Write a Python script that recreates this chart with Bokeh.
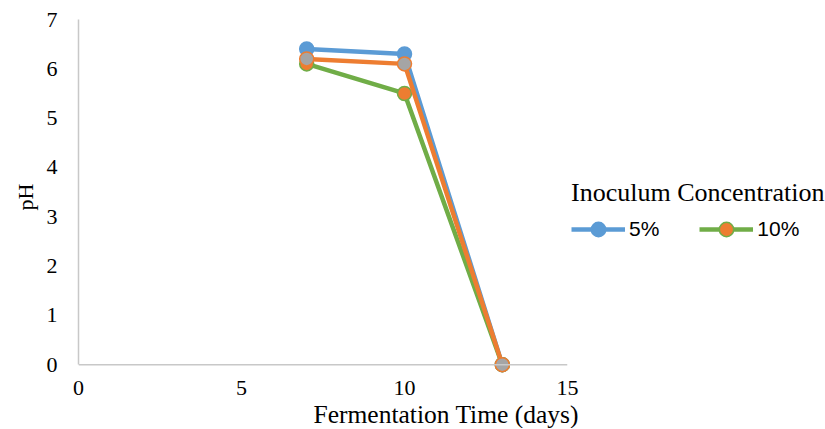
from bokeh.plotting import figure
from bokeh.models import Range1d, Legend, LegendItem, Title, FixedTicker, Span
from bokeh.embed import file_html
from bokeh.resources import INLINE

days = [7, 10, 13]
ph_5 = [6.4, 6.3, 0.0]
ph_10 = [6.1, 5.5, 0.0]
ph_other = [6.2, 6.1, 0.0]
x_ticks = [0, 5, 10, 15]
y_ticks = [0, 1, 2, 3, 4, 5, 6, 7]

BLUE = "#5B9BD5"
ORANGE = "#ED7D31"
GREEN = "#70AD47"
GRAY = "#A5A5A5"
AXIS = "#C8C8C8"
SERIF = "Liberation Serif"

p = figure(frame_width=489, frame_height=355, x_range=Range1d(0, 15), y_range=Range1d(-0.2, 7),
           output_backend="svg", toolbar_location=None,
           min_border_left=78, min_border_right=0, min_border_top=19, min_border_bottom=0)
p.outline_line_color = None
p.xgrid.visible = False
p.ygrid.visible = False

p.add_layout(Span(location=0, dimension="width", line_color=AXIS, line_width=1.5))

l1 = p.line(days, ph_5, line_color=BLUE, line_width=4.5, line_join="round")
s1 = p.scatter(days, ph_5, size=14, fill_color=BLUE, line_color=BLUE, line_width=1.5)
l2 = p.line(days, ph_10, line_color=GREEN, line_width=4.5, line_join="round")
s2 = p.scatter(days, ph_10, size=14, fill_color=ORANGE, line_color=GREEN, line_width=1.5)
l3 = p.line(days, ph_other, line_color=ORANGE, line_width=4.5, line_join="round")
s3 = p.scatter(days, ph_other, size=14, fill_color=GRAY, line_color=ORANGE, line_width=1.5)

for ax in (p.xaxis[0], p.yaxis[0]):
    ax.axis_line_color = AXIS
    ax.axis_line_width = 1.5
    ax.major_tick_line_color = None
    ax.minor_tick_line_color = None
    ax.major_tick_out = 0
    ax.major_tick_in = 0
    ax.major_label_text_font = SERIF
    ax.major_label_text_font_size = "22px"
    ax.major_label_text_color = "#000000"

p.xaxis.ticker = FixedTicker(ticks=x_ticks)
p.yaxis.ticker = FixedTicker(ticks=y_ticks)
p.xaxis.axis_line_color = None
p.yaxis.bounds = (0, 7)
p.xaxis.major_label_standoff = 6
p.yaxis.major_label_standoff = 21

p.yaxis.axis_label = "pH"
p.yaxis.axis_label_text_font = SERIF
p.yaxis.axis_label_text_font_style = "normal"
p.yaxis.axis_label_text_font_size = "22px"
p.yaxis.axis_label_text_color = "#000000"
p.yaxis.axis_label_standoff = 6

xtitle = Title(text="Fermentation Time (days)", align="left", offset=235,
               text_font=SERIF, text_font_size="25.5px", text_font_style="normal",
               text_color="#000000", standoff=0)
p.add_layout(xtitle, "below")

legend = Legend(items=[LegendItem(label="5%", renderers=[l1, s1]),
                       LegendItem(label="10%", renderers=[l2, s2])],
                location=(4, 127), orientation="horizontal",
                title="Inoculum Concentration", title_text_font=SERIF,
                title_text_font_size="26px", title_text_font_style="normal",
                title_text_color="#000000", title_standoff=3,
                glyph_width=54, glyph_height=36, label_standoff=4, spacing=40,
                padding=0, margin=0, border_line_color=None, background_fill_alpha=0,
                label_text_font="Liberation Sans", label_text_font_size="21px",
                label_text_color="#000000")
p.add_layout(legend, "right")

open("out.html", "w").write(file_html(p, INLINE))
